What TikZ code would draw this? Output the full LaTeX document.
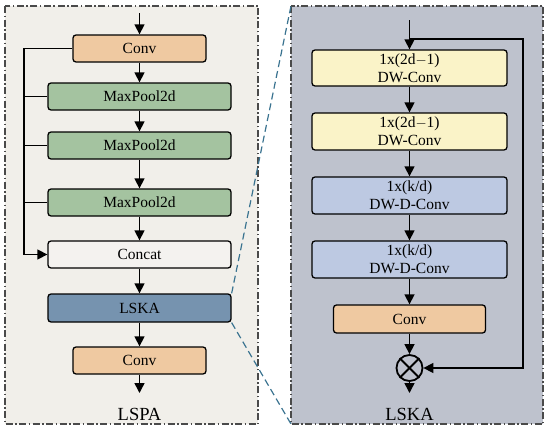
\documentclass[tikz,border=0pt]{standalone}
\usepackage{fontspec}
\setmainfont{Liberation Serif}
\usetikzlibrary{arrows.meta,calc}
\definecolor{leftbg}{HTML}{F1EFEA}
\definecolor{rightbg}{HTML}{BEC2CD}
\definecolor{convc}{HTML}{EFC9A1}
\definecolor{poolc}{HTML}{A4C3A0}
\definecolor{catc}{HTML}{F4F2EF}
\definecolor{lskac}{HTML}{7693AF}
\definecolor{dwc}{HTML}{FAF3C8}
\definecolor{ddc}{HTML}{BDC9E2}
\definecolor{zoomc}{HTML}{3A7390}
\definecolor{framec}{HTML}{4A4A4A}
\tikzset{
  blk/.style={draw=black, line width=1.3pt, rounded corners=3pt, inner sep=0pt,
    font=\fontsize{15.5}{18}\selectfont, align=center},
  arr/.style={line width=1.5pt, -{Triangle[length=10pt,width=10pt]}},
  ln/.style={line width=1.5pt},
  panel/.style={draw=framec, line width=1.3pt, dash pattern=on 7pt off 2.5pt on 1.5pt off 2.5pt},
  zoomln/.style={draw=zoomc, line width=1.2pt, dash pattern=on 7pt off 4pt},
  lbl/.style={font=\fontsize{18.5}{20}\selectfont}
}
\begin{document}
\begin{tikzpicture}[x=1pt,y=-1pt]
\useasboundingbox (0,0) rectangle (550,431);
% panels
\path[fill=leftbg] (5,6) rectangle (258,424);
\path[fill=rightbg] (291,6) rectangle (543,424);
\draw[panel] (5,6) rectangle (258,424);
\draw[panel] (291,6) rectangle (543,424);

% left column
\coordinate (lin) at (139.5,13);
\node[blk, fill=convc, minimum width=133pt, minimum height=27pt] (conv1) at (139.5,48.5) {Conv};
\node[blk, fill=poolc, minimum width=183pt, minimum height=27pt] (mp1) at (139.5,96.5) {MaxPool2d};
\node[blk, fill=poolc, minimum width=183pt, minimum height=27pt] (mp2) at (139.5,145.5) {MaxPool2d};
\node[blk, fill=poolc, minimum width=183pt, minimum height=27pt] (mp3) at (139.5,202.5) {MaxPool2d};
\node[blk, fill=catc, minimum width=183pt, minimum height=27pt] (cat) at (139.5,254.5) {Concat};
\node[blk, fill=lskac, minimum width=183pt, minimum height=28pt] (lska) at (139.5,308) {LSKA};
\node[blk, fill=convc, minimum width=133pt, minimum height=27pt] (conv2) at (139.5,360.5) {Conv};
\coordinate (lout) at (139.5,393);
\node[lbl] (lspa) at (139.5,414) {LSPA};

\draw[arr] (lin) -- (conv1);
\draw[arr] (conv1) -- (mp1);
\draw[arr] (mp1) -- (mp2);
\draw[arr] (mp2) -- (mp3);
\draw[arr] (mp3) -- (cat);
\draw[arr] (cat) -- (lska);
\draw[arr] (lska) -- (conv2);
\draw[arr] (conv2) -- (lout);

\coordinate (bus) at (24,254.5);
\draw[arr] (conv1.west) -| (bus) -- (cat.west);
\draw[ln] (mp1.west) -- (mp1.west -| bus);
\draw[ln] (mp2.west) -- (mp2.west -| bus);
\draw[ln] (mp3.west) -- (mp3.west -| bus);

% right column
\coordinate (rin) at (409.5,20);
\coordinate (split) at (409.5,39);
\coordinate (rcorner) at (523,39);
\node[blk, fill=dwc, minimum width=195pt, minimum height=36pt] (dw1) at (409.5,68) {1x(2d$-$1)\\DW-Conv};
\node[blk, fill=dwc, minimum width=195pt, minimum height=37pt] (dw2) at (409.5,131.5) {1x(2d$-$1)\\DW-Conv};
\node[blk, fill=ddc, minimum width=195pt, minimum height=37pt] (dd1) at (409.5,195.5) {1x(k/d)\\DW-D-Conv};
\node[blk, fill=ddc, minimum width=195pt, minimum height=37pt] (dd2) at (409.5,259.5) {1x(k/d)\\DW-D-Conv};
\node[blk, fill=convc, minimum width=152pt, minimum height=28pt] (conv3) at (409.5,319) {Conv};
\node[circle, draw=black, line width=1.8pt, minimum size=26pt, inner sep=0pt] (mul) at (409.5,368) {};
\draw[line width=1.8pt] (mul.45) -- (mul.225);
\draw[line width=1.8pt] (mul.135) -- (mul.315);
\coordinate (rout) at (409.5,393);
\node[lbl] (lskal) at (409.5,414) {LSKA};

\draw[arr] (rin) -- (dw1);
\draw[arr] (dw1) -- (dw2);
\draw[arr] (dw2) -- (dd1);
\draw[arr] (dd1) -- (dd2);
\draw[arr] (dd2) -- (conv3);
\draw[arr] (conv3) -- (mul);
\draw[arr] (mul) -- (rout);
\draw[arr] (split) -- (rcorner) |- (mul.east);

% zoom lines
\draw[zoomln] (lska.north east) -- (291,6);
\draw[zoomln] (lska.south east) -- (291,424);
\end{tikzpicture}
\end{document}
